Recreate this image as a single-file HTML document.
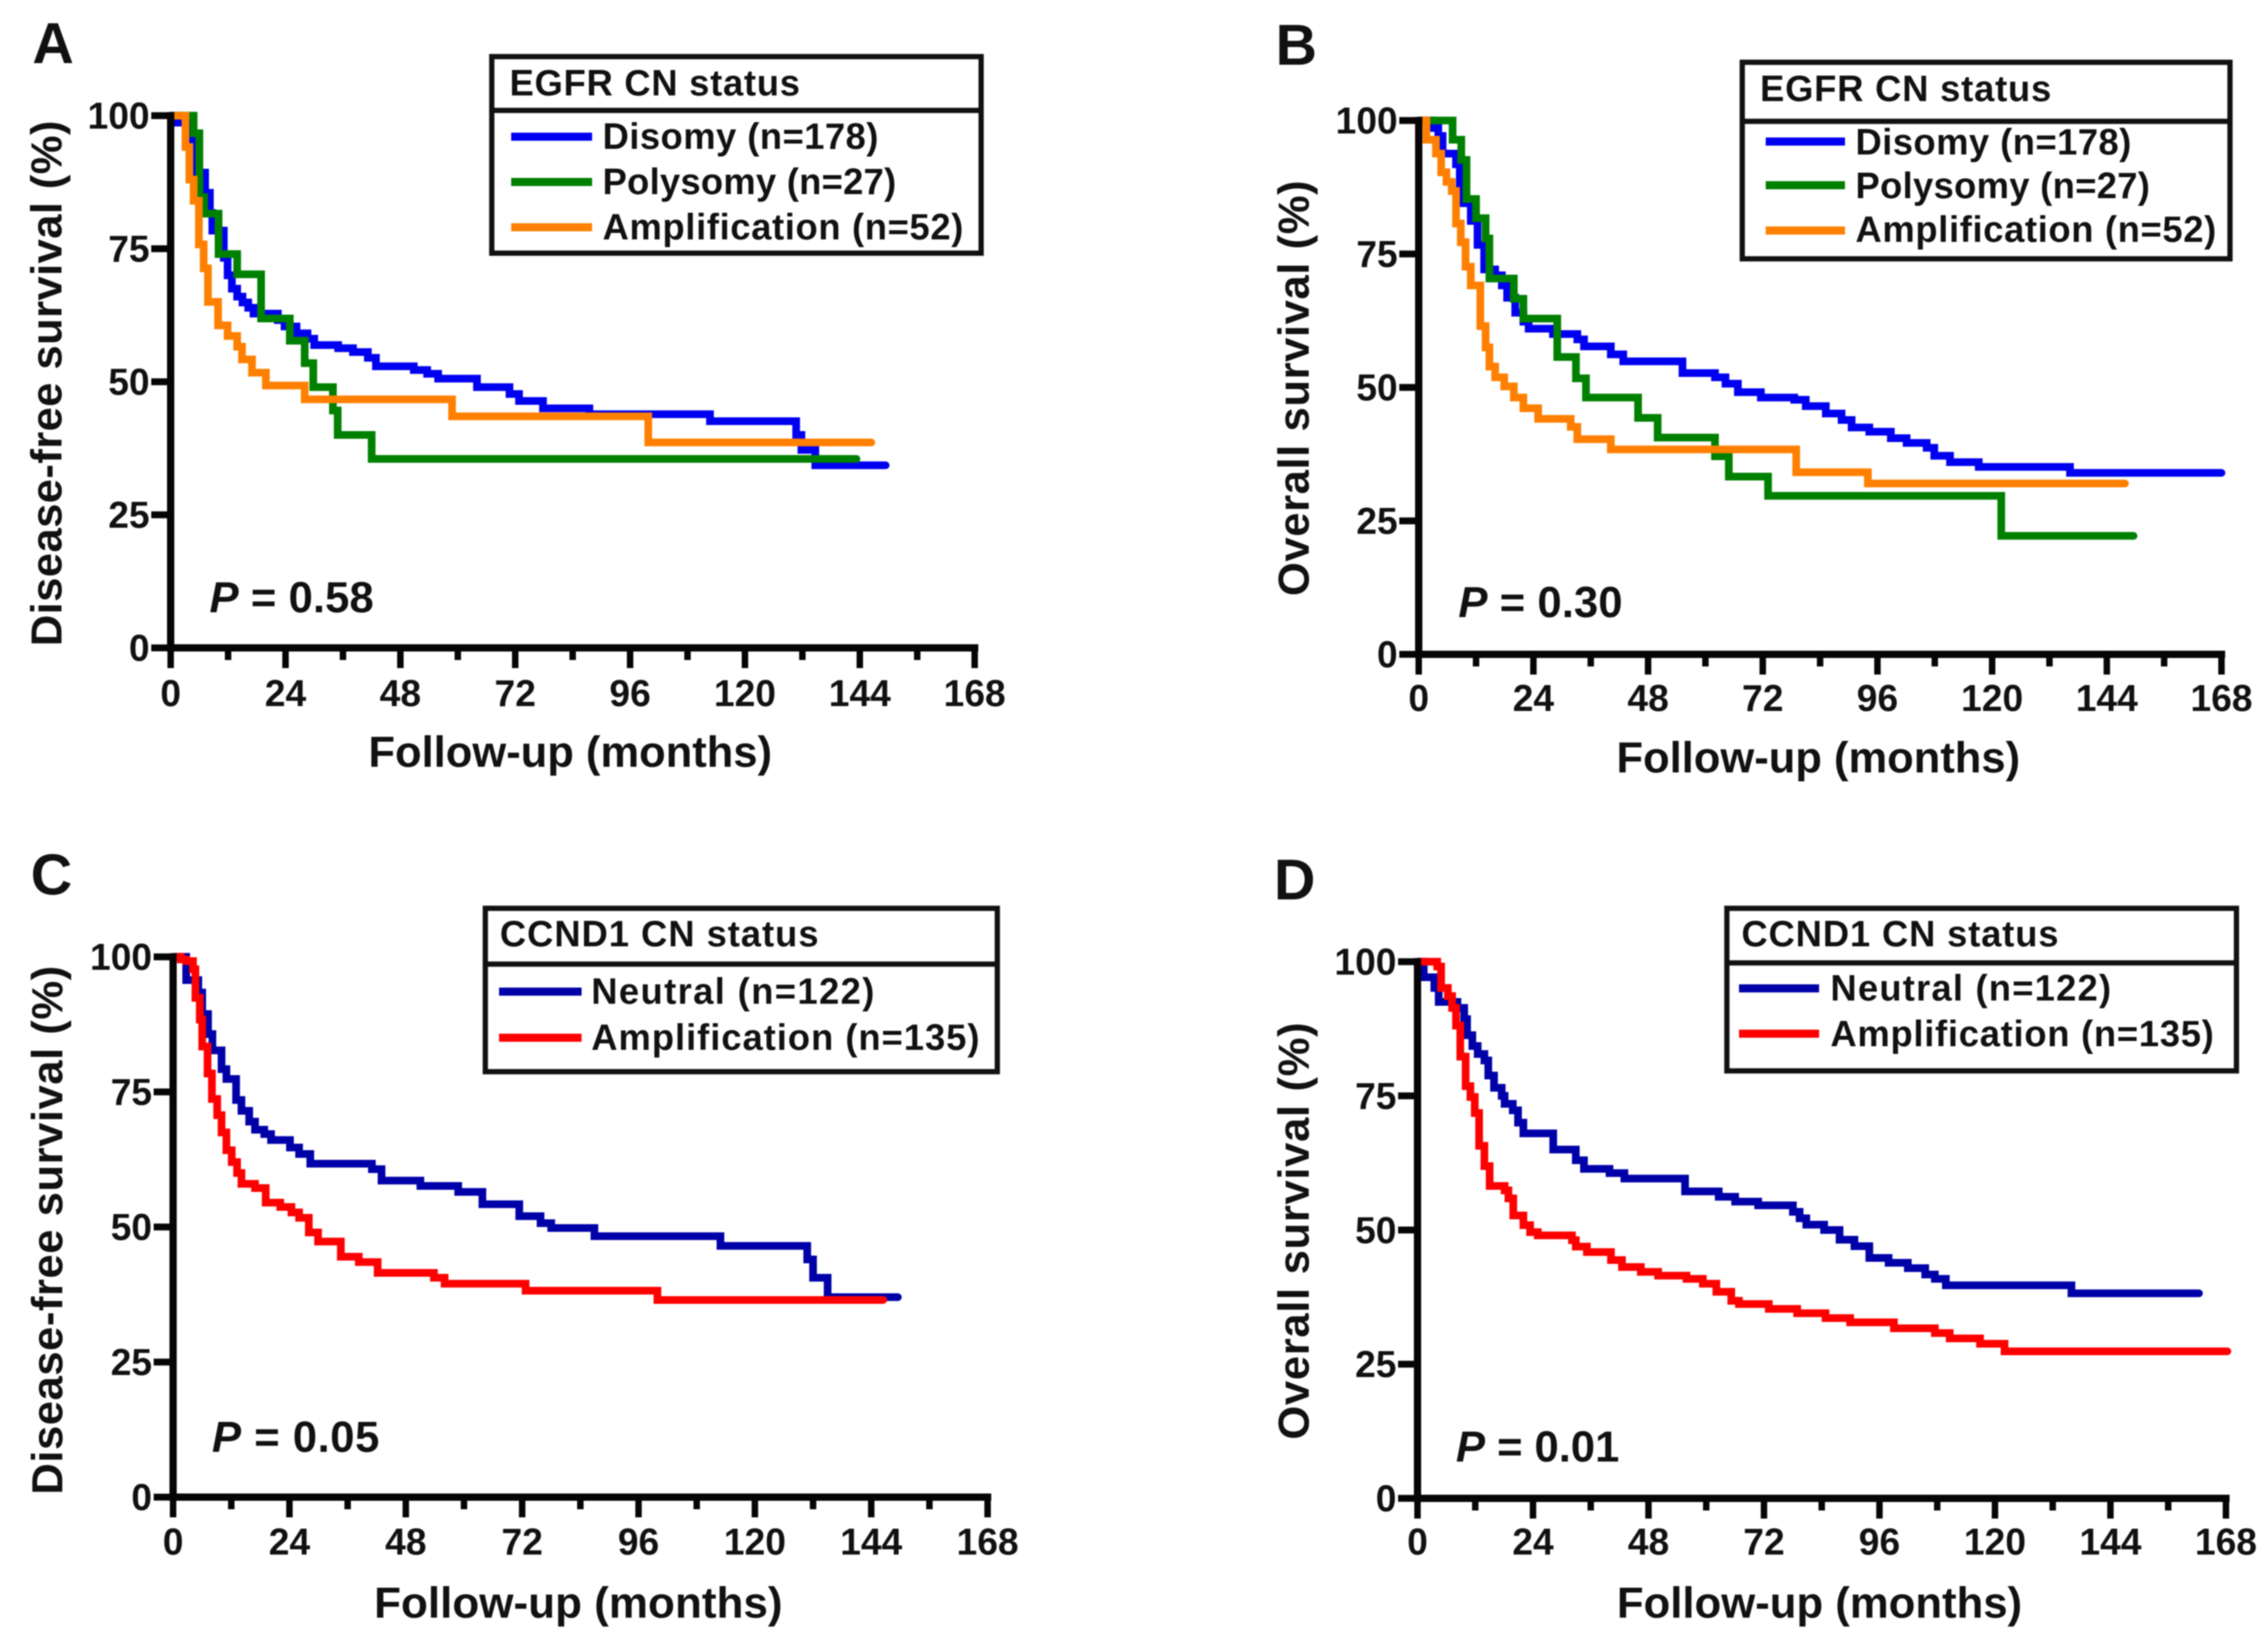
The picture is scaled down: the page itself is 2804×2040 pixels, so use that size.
<!DOCTYPE html>
<html lang="en">
<head>
<meta charset="utf-8">
<title>Survival by EGFR and CCND1 copy number status</title>
<style>
html,body{margin:0;padding:0;background:#fff;width:2804px;height:2040px;overflow:hidden}
svg{display:block;filter:blur(.8px)}
text{font-family:"Liberation Sans",Arial,sans-serif;font-weight:700;fill:#111}
.tk{font-size:46px}
.ttl{font-size:54px}
.pl{font-size:71px}
.lg{font-size:45px}
.pv{font-size:54px}
.box{fill:none;stroke:#111;stroke-width:6.5}
</style>
</head>
<body>
<svg id="figure" xmlns="http://www.w3.org/2000/svg" width="2804" height="2040" viewBox="0 0 2804 2040">
<rect width="2804" height="2040" fill="#fff"/>

<g id="panel-a">
<text class="pl" x="40" y="78">A</text>
<text class="ttl" transform="translate(76 474) rotate(-90)" text-anchor="middle" textLength="650">Disease-free survival (%)</text>
<text class="ttl" x="705" y="948" text-anchor="middle" textLength="499" lengthAdjust="spacingAndGlyphs">Follow-up (months)</text>
<text class="pv" x="259" y="757" textLength="203"><tspan font-style="italic">P</tspan> = 0.58</text>
<g>
<rect class="box" x="608" y="70" width="605" height="243"/>
<line x1="608" x2="1213" y1="136.5" y2="136.5" stroke="#111" stroke-width="6.5"/>
<text class="lg" x="630" y="118" textLength="359">EGFR CN status</text>
<line x1="632" x2="732" y1="169" y2="169" stroke="#0000f0" stroke-width="10"/>
<text class="lg" x="745" y="184" textLength="341">Disomy (n=178)</text>
<line x1="632" x2="732" y1="225" y2="225" stroke="#008000" stroke-width="10"/>
<text class="lg" x="745" y="240" textLength="363">Polysomy (n=27)</text>
<line x1="632" x2="732" y1="281" y2="281" stroke="#ff8000" stroke-width="10"/>
<text class="lg" x="745" y="296" textLength="446">Amplification (n=52)</text>
</g>
</g>

<g id="panel-b">
<text class="pl" x="1577" y="80">B</text>
<text class="ttl" transform="translate(1618 480) rotate(-90)" text-anchor="middle" textLength="514">Overall survival (%)</text>
<text class="ttl" x="2248" y="955" text-anchor="middle" textLength="499" lengthAdjust="spacingAndGlyphs">Follow-up (months)</text>
<text class="pv" x="1803" y="763" textLength="203"><tspan font-style="italic">P</tspan> = 0.30</text>
<g>
<rect class="box" x="2154" y="77" width="603" height="243"/>
<line x1="2154" x2="2757" y1="150" y2="150" stroke="#111" stroke-width="6.5"/>
<text class="lg" x="2176" y="125" textLength="360">EGFR CN status</text>
<line x1="2183" x2="2281" y1="175" y2="175" stroke="#0000f0" stroke-width="10"/>
<text class="lg" x="2294" y="191" textLength="341">Disomy (n=178)</text>
<line x1="2183" x2="2281" y1="229" y2="229" stroke="#008000" stroke-width="10"/>
<text class="lg" x="2294" y="245" textLength="364">Polysomy (n=27)</text>
<line x1="2183" x2="2281" y1="285" y2="285" stroke="#ff8000" stroke-width="10"/>
<text class="lg" x="2294" y="299" textLength="446">Amplification (n=52)</text>
</g>
</g>

<g id="panel-c">
<text class="pl" x="38" y="1106">C</text>
<text class="ttl" transform="translate(77 1521) rotate(-90)" text-anchor="middle" textLength="654">Disease-free survival (%)</text>
<text class="ttl" x="715" y="2000" text-anchor="middle" textLength="505" lengthAdjust="spacingAndGlyphs">Follow-up (months)</text>
<text class="pv" x="262" y="1795" textLength="207"><tspan font-style="italic">P</tspan> = 0.05</text>
<g>
<rect class="box" x="600" y="1123" width="633" height="202"/>
<line x1="600" x2="1233" y1="1192" y2="1192" stroke="#111" stroke-width="6.5"/>
<text class="lg" x="618" y="1170" textLength="394">CCND1 CN status</text>
<line x1="617" x2="719" y1="1226" y2="1226" stroke="#0000a8" stroke-width="10"/>
<text class="lg" x="731" y="1241" textLength="350">Neutral (n=122)</text>
<line x1="617" x2="719" y1="1283" y2="1283" stroke="#ff0000" stroke-width="10"/>
<text class="lg" x="731" y="1298" textLength="480">Amplification (n=135)</text>
</g>
</g>

<g id="panel-d">
<text class="pl" x="1575" y="1112">D</text>
<text class="ttl" transform="translate(1618 1522) rotate(-90)" text-anchor="middle" textLength="516">Overall survival (%)</text>
<text class="ttl" x="2249.5" y="2000" text-anchor="middle" textLength="501" lengthAdjust="spacingAndGlyphs">Follow-up (months)</text>
<text class="pv" x="1800" y="1807" textLength="202"><tspan font-style="italic">P</tspan> = 0.01</text>
<g>
<rect class="box" x="2135" y="1123" width="630" height="201"/>
<line x1="2135" x2="2765" y1="1190.5" y2="1190.5" stroke="#111" stroke-width="6.5"/>
<text class="lg" x="2153" y="1170" textLength="392">CCND1 CN status</text>
<line x1="2150" x2="2249" y1="1222" y2="1222" stroke="#0000a8" stroke-width="10"/>
<text class="lg" x="2263" y="1237" textLength="347">Neutral (n=122)</text>
<line x1="2150" x2="2249" y1="1278" y2="1278" stroke="#ff0000" stroke-width="10"/>
<text class="lg" x="2263" y="1293.5" textLength="474">Amplification (n=135)</text>
</g>
</g>
</svg>

<script>
// Shared tick values
const xTickMonths = [0, 12, 24, 36, 48, 60, 72, 84, 96, 108, 120, 132, 144, 156, 168];
const xTickLabels = ["0", "", "24", "", "48", "", "72", "", "96", "", "120", "", "144", "", "168"];
const yTickValues = [0, 25, 50, 75, 100];
const yTickLabels = ["0", "25", "50", "75", "100"];

// Panel A: disease-free survival by EGFR status
const aDisomyMonths = [0, 1.5, 4.3, 4.9, 7.2, 8.2, 8.7, 11.1, 11.9, 12.8, 13.9, 15, 16.2, 17.3, 22.4, 23.8, 26.3, 28.6, 30, 35, 38.1, 41.2, 42.9, 50.8, 53.6, 55.9, 64, 70.8, 72.8, 77.8, 87.5, 112.7, 130.7, 131.8, 134.7, 149.4];
const aDisomySurvival = [100, 98.7, 95.4, 89.3, 85.5, 81.7, 78.4, 73.3, 70, 67.5, 66, 64.9, 63.9, 62.8, 61.6, 60.4, 59.1, 58.1, 56.9, 56.3, 55.6, 54.5, 52.9, 52.2, 51.5, 50.6, 49, 47.7, 46.4, 45, 43.9, 42.6, 40, 37.2, 34.3, 34.3];
const aPolysomyMonths = [0, 4.8, 6, 7, 10, 13.9, 18.9, 24.9, 28, 29.8, 33.9, 34.9, 42, 143.3];
const aPolysomySurvival = [100, 96.7, 84.7, 81.6, 74, 70.2, 61.9, 57.7, 53.5, 49, 44.6, 40, 35.5, 35.5];
const aAmplificationMonths = [0, 3.1, 3.9, 4.8, 5.9, 6.9, 7.8, 9.9, 11.9, 13.9, 14.9, 17, 19.9, 28, 58.8, 99.8, 146.4];
const aAmplificationSurvival = [100, 94.1, 88, 84, 75.8, 71.3, 65, 60.6, 58.6, 56.6, 54.2, 51.7, 49.3, 46.7, 43.5, 38.6, 38.6];

// Panel B: overall survival by EGFR status
const bDisomyMonths = [0, 3, 4.1, 5, 7.8, 8.6, 10.9, 12.3, 13.7, 16, 17.4, 18.5, 20.2, 21.9, 23, 28.1, 33.2, 34.6, 40.2, 42.8, 55.2, 62, 64.2, 66.8, 71.6, 78.6, 81, 85.2, 88.5, 90.6, 94.3, 98.8, 102.1, 106.3, 107.9, 111.2, 117.2, 136.3, 168];
const bDisomySurvival = [100, 98.6, 97.1, 93.8, 91.8, 84.5, 81.2, 76.7, 72.1, 71, 69.1, 66.8, 64, 62.3, 61, 60, 59, 57.7, 56.2, 54.9, 52.7, 51.9, 50.7, 49.1, 48.1, 47.7, 46.5, 45.1, 43.9, 42.5, 41.7, 40.5, 39.6, 38.7, 37.2, 36, 35.1, 34, 34];
const bPolysomyMonths = [0, 7.1, 8.9, 10, 12, 14, 14.8, 19.9, 21.9, 29, 32.9, 35, 45.9, 50, 62, 64.9, 73.1, 121.9, 149.6];
const bPolysomySurvival = [100, 96.4, 92.6, 85.3, 81.7, 77.9, 70.4, 66.6, 62.9, 55.7, 51.7, 48.1, 44.3, 40.6, 37.1, 33.3, 29.7, 22.2, 22.2];
const bAmplificationMonths = [0, 1.6, 3.6, 4.7, 5.8, 6.9, 7.8, 8.8, 9.8, 10.9, 12.9, 14, 14.8, 16, 17.9, 19.9, 21.9, 25, 31.8, 33.2, 40.2, 79, 94, 147.8];
const bAmplificationSurvival = [100, 96.4, 93.8, 90.3, 88.5, 86.8, 80.7, 77.2, 72.6, 69.1, 61.5, 57.5, 53.9, 51.9, 50.2, 48.1, 46.1, 44.1, 42.6, 40.3, 38.4, 34.1, 32, 32];

// Panel C: disease-free survival by CCND1 status
const cNeutralMonths = [0, 2.7, 5.2, 6, 7.2, 8.1, 10, 11, 13, 14.1, 15.7, 16.9, 18.8, 20.2, 24.1, 26, 28.3, 41, 43, 51, 58.8, 63.8, 71.4, 75.8, 78, 86.9, 112.9, 130.8, 132, 135, 149.5];
const cNeutralSurvival = [100, 95.7, 93.4, 89.4, 85.7, 82.7, 79.2, 77.4, 73.5, 71.5, 69.5, 68, 67.2, 66.1, 64.7, 63.5, 61.7, 60.7, 58.6, 57.6, 56.5, 54.2, 52, 50.7, 49.8, 48.3, 46.5, 44, 40.6, 37, 37];
const cAmplificationMonths = [0, 1.6, 2.7, 4.1, 4.6, 5.5, 6, 7.1, 8, 9.1, 10, 11, 12.1, 13.2, 14.1, 16.9, 19.1, 22.1, 24.4, 26, 28, 29.9, 34.6, 38.3, 42.2, 53.8, 56, 72.7, 99.9, 146.5];
const cAmplificationSurvival = [100, 99.5, 99.2, 97.7, 92.4, 88.4, 83.4, 78.4, 73.7, 70.7, 67.5, 64.2, 62, 60, 58, 57.2, 54.5, 53.7, 52.7, 51.7, 49, 47.3, 44.5, 43.5, 41.5, 40.6, 39.5, 38.2, 36.5, 36.5];

// Panel D: overall survival by CCND1 status
const dNeutralMonths = [0, 1.3, 3.5, 4.4, 8.3, 9.7, 10.3, 11.4, 12.5, 13.9, 14.7, 15.9, 17.5, 18.1, 19.8, 20.9, 22, 28.2, 32.9, 34.6, 39.9, 43, 55.6, 62.6, 66, 70.8, 78, 79.4, 80.8, 84.5, 87.7, 90.8, 93.9, 97.9, 101.9, 105.5, 107.5, 109.8, 135.9, 162.4];
const dNeutralSurvival = [100, 97.1, 95.1, 92.5, 91.4, 89.3, 86.3, 84.3, 82.8, 81.6, 78.8, 76.5, 75, 73.5, 72.3, 70, 68, 65, 63, 61.4, 60.6, 59.6, 57.2, 56.2, 55.3, 54.6, 53.4, 52.2, 51, 50, 48.2, 47, 44.8, 43.9, 42.9, 41.7, 40.9, 39.7, 38.2, 38.2];
const dAmplificationMonths = [0, 4.1, 4.9, 6.3, 7.2, 8, 8.9, 10, 11, 11.9, 12.8, 13.9, 15, 18.1, 18.9, 19.9, 22, 23.4, 25, 32.1, 32.9, 35.2, 40.2, 42.5, 46.4, 50, 55.9, 59.3, 62.1, 65.2, 66.8, 73, 78.9, 84.8, 89.9, 99, 107.5, 110.6, 116.9, 122, 168.3];
const dAmplificationSurvival = [100, 99.1, 95.1, 93.6, 91.4, 88.1, 82.3, 76.8, 74.8, 71.8, 65.7, 61.9, 58.2, 57.4, 55.9, 52.7, 50.9, 49.6, 49, 48.1, 46.9, 45.9, 44.4, 43.1, 42.2, 41.5, 40.9, 40, 38.5, 36.8, 36.2, 35.3, 34.5, 33.6, 32.8, 31.7, 30.8, 29.8, 28.8, 27.4, 27.4];

const SVG_NS = "http://www.w3.org/2000/svg";

function makeEl(tag, parent, attrs) {
  const el = document.createElementNS(SVG_NS, tag);
  for (const k in attrs) el.setAttribute(k, attrs[k]);
  parent.appendChild(el);
  return el;
}

function makeAxes(g, frame, xScale, yScale, id) {
  const ink = "#050505";
  const yAxis = makeEl("line", g, {x1: xScale(0), x2: xScale(0), y1: yScale(100) - 4.5, y2: yScale(0) + 4.5, stroke: ink, "stroke-width": 9});
  
  
  const xAxis = makeEl("line", g, {x1: xScale(0) - 4.5, x2: xScale(168) + 4.5, y1: yScale(0), y2: yScale(0), stroke: ink, "stroke-width": 9});
  
  

  yTickValues.forEach(function (v, i) {
    const t = makeEl("line", g, {x1: xScale(0) - 24, x2: xScale(0), y1: yScale(v), y2: yScale(v), stroke: ink, "stroke-width": 8.5});
    
    
    const lab = makeEl("text", g, {class: "tk", x: xScale(0) - 26, y: yScale(v) + 16, "text-anchor": "end"});
    
    
    lab.textContent = yTickLabels[i];
  });

  xTickMonths.forEach(function (m, i) {
    const major = xTickLabels[i] !== "";
    const t = makeEl("line", g, {x1: xScale(m), x2: xScale(m), y1: yScale(0), y2: yScale(0) + (major ? 25 : 15), stroke: ink, "stroke-width": 8});
    
    
    if (major) {
      const lab = makeEl("text", g, {class: "tk", x: xScale(m), y: frame.xLabelBaseline, "text-anchor": "middle"});
      
      
      lab.textContent = xTickLabels[i];
    }
  });
}

function stepPath(months, survival, xScale, yScale) {
  let d = "M" + xScale(months[0]).toFixed(1) + " " + yScale(survival[0]).toFixed(1);
  for (let i = 1; i < months.length; i++) {
    d += "H" + xScale(months[i]).toFixed(1) + "V" + yScale(survival[i]).toFixed(1);
  }
  return d;
}

function makeCurve(g, months, survival, color, xScale, yScale) {
  return makeEl("path", g, {
    d: stepPath(months, survival, xScale, yScale),
    fill: "none", stroke: color, "stroke-width": 9.5,
    "stroke-linejoin": "miter", "stroke-linecap": "round"
  });
}

function drawPanel(id, frame, series) {
  const g = document.getElementById("panel-" + id);
  const xScale = function (m) { return frame.x0 + m * (frame.x168 - frame.x0) / 168; };
  const yScale = function (v) { return frame.y0 - v * (frame.y0 - frame.y100) / 100; };
  series.forEach(function (s) {
    const path = makeCurve(g, s.months, s.survival, s.color, xScale, yScale);
    
    
  });
  makeAxes(g, frame, xScale, yScale, id);
}

drawPanel("a", {x0: 211, x168: 1205, y100: 143, y0: 801, xLabelBaseline: 873}, [
  {name: "disomy", months: aDisomyMonths, survival: aDisomySurvival, color: "#0000f0"},
  {name: "polysomy", months: aPolysomyMonths, survival: aPolysomySurvival, color: "#008000"},
  {name: "amplification", months: aAmplificationMonths, survival: aAmplificationSurvival, color: "#ff8000"}
]);
drawPanel("b", {x0: 1754, x168: 2746.5, y100: 149, y0: 809, xLabelBaseline: 879}, [
  {name: "disomy", months: bDisomyMonths, survival: bDisomySurvival, color: "#0000f0"},
  {name: "polysomy", months: bPolysomyMonths, survival: bPolysomySurvival, color: "#008000"},
  {name: "amplification", months: bAmplificationMonths, survival: bAmplificationSurvival, color: "#ff8000"}
]);
drawPanel("c", {x0: 214, x168: 1221, y100: 1183, y0: 1851, xLabelBaseline: 1922}, [
  {name: "neutral", months: cNeutralMonths, survival: cNeutralSurvival, color: "#0000a8"},
  {name: "amplification", months: cAmplificationMonths, survival: cAmplificationSurvival, color: "#ff0000"}
]);
drawPanel("d", {x0: 1752.5, x168: 2752, y100: 1189, y0: 1852.5, xLabelBaseline: 1922}, [
  {name: "neutral", months: dNeutralMonths, survival: dNeutralSurvival, color: "#0000a8"},
  {name: "amplification", months: dAmplificationMonths, survival: dAmplificationSurvival, color: "#ff0000"}
]);
</script>
</body>
</html>
